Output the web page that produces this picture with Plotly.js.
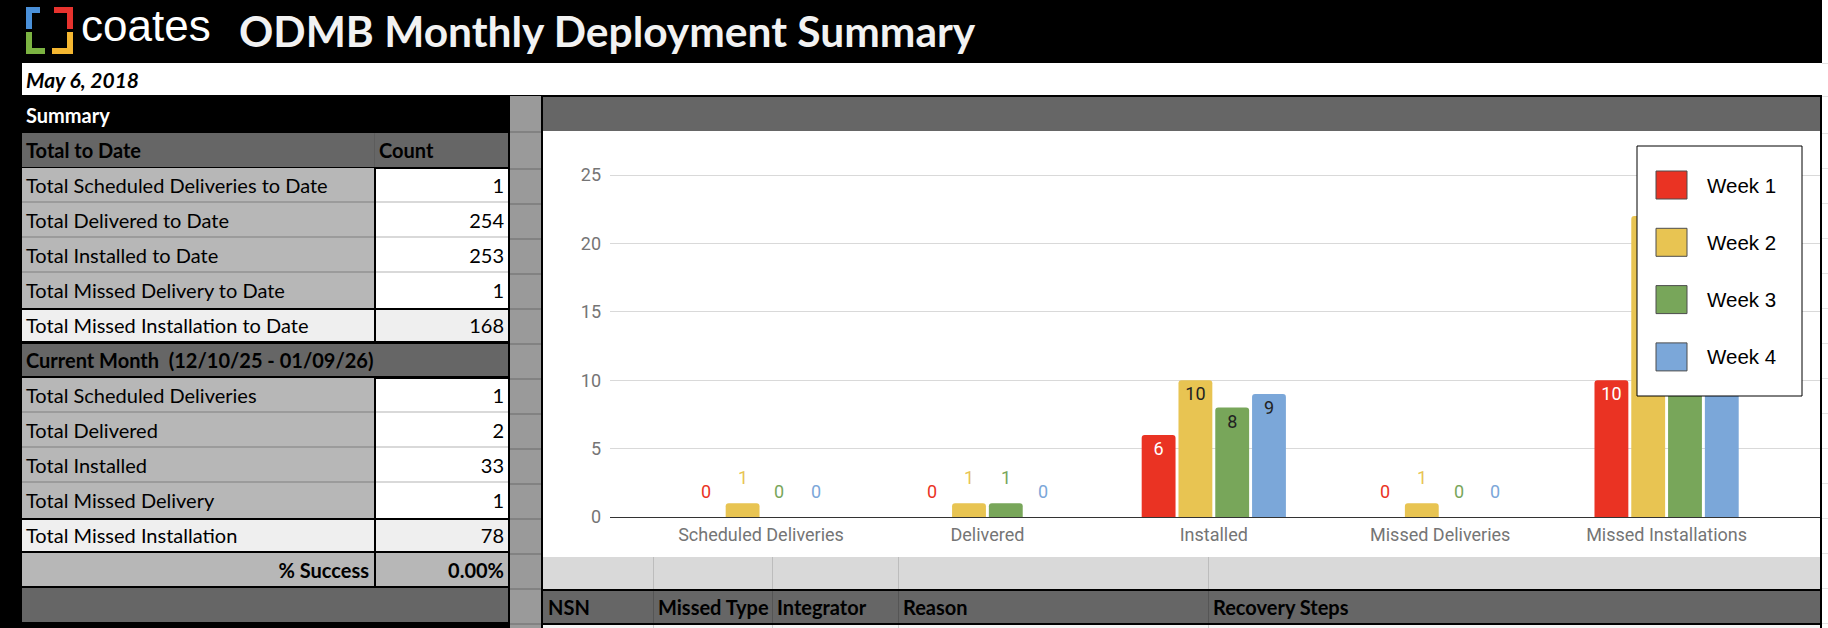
<!DOCTYPE html>
<html><head><meta charset="utf-8">
<script src="https://cdn.plot.ly/plotly-3.0.1.min.js"></script>
<style>
html,body{margin:0;padding:0;background:#000;}
#page{position:relative;width:1828px;height:628px;overflow:hidden;background:#000;}
#sheet{position:absolute;left:0;top:0;}
#chart{position:absolute;left:543px;top:131px;width:1277px;height:426px;}
</style></head><body>
<div id="page"><svg id="sheet" width="1828" height="628" xmlns="http://www.w3.org/2000/svg"></svg><div id="chart"></div></div>
<script>
// ---------- data ----------
const categories = ['Scheduled Deliveries', 'Delivered', 'Installed', 'Missed Deliveries', 'Missed Installations'];
const seriesNames = ['Week 1', 'Week 2', 'Week 3', 'Week 4'];
const week1 = [0, 0, 6, 0, 10];
const week2 = [1, 1, 10, 1, 22];
const week3 = [0, 1, 8, 0, 23];
const week4 = [0, 0, 9, 0, 23];
const yTicks = [0, 5, 10, 15, 20, 25];

const reportTitle = 'ODMB Monthly Deployment Summary';
const reportDate = 'May 6, 2018';
const totalLabels = ['Total Scheduled Deliveries to Date', 'Total Delivered to Date', 'Total Installed to Date', 'Total Missed Delivery to Date', 'Total Missed Installation to Date'];
const totalValues = [1, 254, 253, 1, 168];
const monthHeader = 'Current Month  (12/10/25 - 01/09/26)';
const monthLabels = ['Total Scheduled Deliveries', 'Total Delivered', 'Total Installed', 'Total Missed Delivery', 'Total Missed Installation'];
const monthValues = [1, 2, 33, 1, 78];
const successLabel = '% Success';
const successValue = '0.00%';
const missedColumns = ['NSN', 'Missed Type', 'Integrator', 'Reason', 'Recovery Steps'];

// ---------- styles ----------
const seriesColors = ['#ea3323', '#e8c452', '#78a65a', '#7ba7d9'];
const insideText = ['#ffffff', '#222222', '#222222', '#222222'];
const TF = "Lato, 'Open Sans', sans-serif";
const FS = 20;

// ---------- spreadsheet frame (svg) ----------
let s = '';
function esc(t){return String(t).replace(/&/g,'&amp;').replace(/</g,'&lt;');}
function R(x,y,w,h,f){ s += `<rect x="${x}" y="${y}" width="${w}" height="${h}" fill="${f}"/>`; }
function T(x,y,t,o){ o=o||{};
  s += `<text x="${x}" y="${y}" xml:space="preserve" font-family="${o.ff||TF}" font-size="${o.fs||FS}" font-weight="${o.fw||400}" font-style="${o.it?'italic':'normal'}" fill="${o.c||'#000'}" text-anchor="${o.a||'start'}">${esc(t)}</text>`; }

// right edge strip
R(1822,0,6,628,'#ffffff');
[63,96,133,168,203,238,273,308,343,378,413,448,483,518,553,588,623].forEach(y=>R(1822,y,6,1,'#e3e3e3'));
// date row
R(22,63,1800,32,'#ffffff');
// logo
R(26,7,6,22,'#4a90d9'); R(26,7,14,6,'#4a90d9');
R(54,7,19,6,'#e8332e'); R(67,7,6,22,'#e8332e');
R(26,32,6,22,'#7cb342'); R(26,48,19,6,'#7cb342');
R(52,48,21,6,'#f5b731'); R(67,32,6,22,'#f5b731');
T(81,41,'coates',{ff:"'Liberation Sans', Arial, sans-serif",fs:44,c:'#ffffff'});
T(239,47,reportTitle,{fs:42.5,fw:700,c:'#f2f2f2'});
T(26,88,reportDate,{fs:21,fw:700,it:true});
T(26,123,'Summary',{fw:700,c:'#ffffff'});

// left table
const LX=22, DIV=374, VX=376, RX=508;
R(LX,133,RX-LX,34,'#666666'); R(DIV,133,1,34,'#5c5c5c');
T(26,158,'Total to Date',{fw:700}); T(379,158,'Count',{fw:700});
function dataRows(top, labels, values){
  for(let k=0;k<4;k++){
    const y=top+35*k;
    R(LX,y,DIV-LX,35,'#b7b7b7');
    R(VX,y+(k===0?1:0),RX-VX,35-(k===0?1:0),'#ffffff');
    if(k<3){R(LX,y+33,DIV-LX,2,'#9b9b9b'); R(VX,y+33,RX-VX,2,'#d9d9d9');}
    T(26,y+25,labels[k]); T(504,y+25,values[k],{a:'end'});
  }
  const y=top+140;
  R(LX,y+2,DIV-LX,31,'#efefef'); R(VX,y+2,RX-VX,31,'#efefef');
  T(26,y+25,labels[4]); T(504,y+25,values[4],{a:'end'});
}
dataRows(168,totalLabels,totalValues);
R(LX,344,RX-LX,32,'#666666');
T(26,368,monthHeader,{fw:700});
dataRows(378,monthLabels,monthValues);
R(LX,553,DIV-LX,33,'#b7b7b7'); R(VX,553,RX-VX,33,'#b7b7b7');
T(369,578,successLabel,{fw:700,a:'end'}); T(504,578,successValue,{fw:700,a:'end'});
R(LX,588,RX-LX,34,'#666666');

// gray strip column
R(510,96,31,532,'#9a9a9a');
[131,168,203,238,273,308,343,378,413,448,483,518,553,588,623].forEach(y=>R(510,y,31,2,'#828282'));

// chart panel frame
R(543,97,1277,34,'#666666');
R(543,131,1277,426,'#ffffff');
R(543,557,1277,32,'#d9d9d9');
R(543,591,1277,32,'#666666');
R(543,625,1277,3,'#f3f3f3');
const colX=[543,653,772,898,1208];
colX.forEach((x,i)=>{ if(i>0){R(x,557,1,32,'#bdbdbd'); R(x,591,1,32,'#555555'); R(x,625,1,3,'#cccccc');}
  T(x+5,615,missedColumns[i],{fw:700}); });
document.getElementById('sheet').innerHTML = s;

// ---------- chart ----------
const allSeries = [week1, week2, week3, week4];
const bargap = 0.35;
const slot = (1-bargap)/allSeries.length;
const traces = allSeries.map((vals,j)=>({
  type:'bar', name:seriesNames[j], x:categories, y:vals,
  marker:{color:seriesColors[j], cornerradius:3, line:{width:0}},
  text: vals.map(v=> v>=3 ? String(v) : ''),
  textposition:'inside', insidetextanchor:'end', textangle:0, constraintext:'none',
  insidetextfont:{family:'Roboto', size:18, color:insideText[j]},
  hoverinfo:'skip', showlegend:false
}));

// outside (small) value labels, placed above their bars
const annotations = [];
allSeries.forEach((vals,j)=>vals.forEach((v,i)=>{
  if(v<3) annotations.push({x:i+(j-(allSeries.length-1)/2)*slot, y:v, xref:'x', yref:'y', text:String(v),
    showarrow:false, yshift:26, font:{family:'Roboto', size:18, color:seriesColors[j]}});
}));

// legend box (drawn in paper coordinates)
const PL=610, PW=1210, PB=517, PH=383;
const px=x=>(x-PL)/PW, py=y=>(PB-y)/PH;
const shapes=[{type:'rect',xref:'paper',yref:'paper',x0:px(1637),x1:px(1802),y0:py(396),y1:py(146),
  fillcolor:'#ffffff',line:{color:'#000000',width:1},layer:'above'}];
seriesNames.forEach((n,j)=>{
  const cy=185+57.3*j;
  shapes.push({type:'rect',xref:'paper',yref:'paper',x0:px(1656),x1:px(1687),y0:py(cy+14),y1:py(cy-14),
    fillcolor:seriesColors[j],line:{color:'#4d4d4d',width:1},layer:'above'});
  annotations.push({xref:'paper',yref:'paper',x:px(1705),y:py(cy),xanchor:'left',yanchor:'middle',text:n,
    showarrow:false,font:{family:"'Liberation Sans', Arial, sans-serif",size:20.5,color:'#000000'}});
});

const unit = 226.4;
const layout = {
  width:1277, height:426, margin:{l:67,r:0,t:3,b:40},
  paper_bgcolor:'#ffffff', plot_bgcolor:'#ffffff',
  barmode:'group', bargap:bargap, bargroupgap:0.08,
  font:{family:'Roboto', color:'#757575'},
  xaxis:{type:'category', range:[-(761-PL)/unit, -(761-PL)/unit + PW/unit], showgrid:false,
    showline:true, linecolor:'#333333', linewidth:1, ticks:'', ticklabelstandoff:1,
    tickfont:{family:'Roboto', size:18, color:'#757575'}, fixedrange:true},
  yaxis:{range:[0,28], tickvals:yTicks, showgrid:true, gridcolor:'#d9d9d9', gridwidth:1, zeroline:false,
    ticks:'', ticklabelstandoff:8, tickfont:{family:'Roboto', size:18, color:'#757575'}, fixedrange:true},
  showlegend:false, shapes:shapes, annotations:annotations
};
Plotly.newPlot('chart', traces, layout, {displayModeBar:false, staticPlot:true});
</script>
</body></html>
